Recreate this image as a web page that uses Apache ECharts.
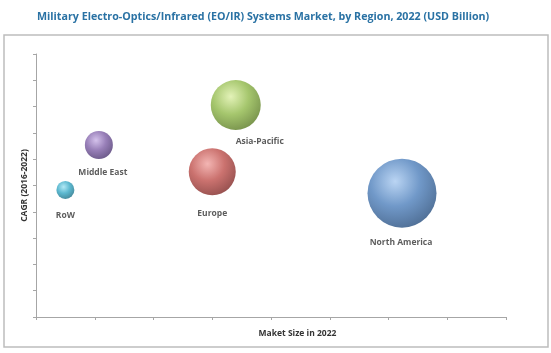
<!DOCTYPE html>
<html>
<head>
<meta charset="utf-8">
<script src="https://cdn.jsdelivr.net/npm/echarts@6/dist/echarts.min.js"></script>
<style>
  html, body { margin: 0; padding: 0; background: #fff; }
  #chart { width: 551px; height: 353px; }
</style>
</head>
<body>
<div id="chart"></div>
<script>
// 区域数据：x = 市场规模位置, y = CAGR, bubble = 气泡直径
const regions = ['RoW', 'Middle East', 'Asia-Pacific', 'Europe', 'North America'];
const marketSize = [0.50, 1.07, 3.40, 3.00, 6.23];
const cagr = [4.83, 6.54, 8.06, 5.52, 4.71];
const bubble = [18, 28, 50, 47, 69];

// 颜色 (亮, 基色, 暗)
const colors = [
    ['#9fe3f3', '#33a6c3', '#166a80'],
    ['#c9b2e6', '#7e5fa6', '#46306b'],
    ['#dcefa6', '#8fb849', '#55761f'],
    ['#f0a3a0', '#be4f4b', '#7a2422'],
    ['#a9caf0', '#4d7fbb', '#234a7a']
];
// 标签偏移
const labelOffsets = [[0, 4], [4, 1], [24, -1], [0, 6], [-1, 2]];

const chart = echarts.init(document.getElementById('chart'));

const data = regions.map((name, i) => ({
    name: name,
    value: [marketSize[i], cagr[i], bubble[i]],
    itemStyle: {
        color: new echarts.graphic.RadialGradient(0.4, 0.33, 0.72, [
            { offset: 0, color: colors[i][0] },
            { offset: 0.5, color: colors[i][1] },
            { offset: 1, color: colors[i][2] }
        ])
    },
    label: { offset: labelOffsets[i] }
}));

const option = {
    animation: false,
    title: {
        text: 'Military Electro-Optics/Infrared (EO/IR) Systems Market, by Region, 2022 (USD Billion)',
        left: 32,
        top: 6,
        textStyle: {
            fontFamily: 'Open Sans',
            fontSize: 10.7,
            fontWeight: 'bold',
            color: '#2a72a4'
        }
    },
    graphic: [{
        type: 'rect',
        shape: { x: 4, y: 35, width: 544, height: 312 },
        style: { fill: 'none', stroke: '#bdbdbd', lineWidth: 1.5 },
        silent: true
    }],
    grid: { left: 36, right: 45, top: 54, bottom: 36 },
    xAxis: {
        type: 'value',
        min: 0, max: 8, interval: 1,
        name: 'Maket Size in 2022',
        nameLocation: 'middle',
        nameGap: 12,
        nameTextStyle: {
            fontFamily: 'Open Sans', fontSize: 8.5, fontWeight: 'bold', color: '#333',
            padding: [0, 0, 0, 53]
        },
        axisLine: { lineStyle: { color: '#a6a6a6' } },
        axisTick: { show: true, length: 3, lineStyle: { color: '#a6a6a6' } },
        axisLabel: { show: false },
        splitLine: { show: false }
    },
    yAxis: {
        type: 'value',
        min: 0, max: 10, interval: 1,
        name: 'CAGR (2016-2022)',
        nameLocation: 'middle',
        nameGap: 7,
        nameTextStyle: { fontFamily: 'Open Sans', fontSize: 8.5, fontWeight: 'bold', color: '#333' },
        axisLine: { show: true, lineStyle: { color: '#a6a6a6' } },
        axisTick: { show: true, length: 3, lineStyle: { color: '#a6a6a6' } },
        axisLabel: { show: false },
        splitLine: { show: false }
    },
    series: [{
        type: 'scatter',
        data: data,
        symbolSize: d => d[2],
        label: {
            show: true,
            position: 'bottom',
            distance: 8,
            formatter: p => p.name,
            fontFamily: 'Open Sans',
            fontSize: 8.5,
            fontWeight: 'bold',
            color: '#333'
        }
    }]
};

chart.setOption(option);
window.addEventListener('resize', () => chart.resize());
</script>
</body>
</html>
